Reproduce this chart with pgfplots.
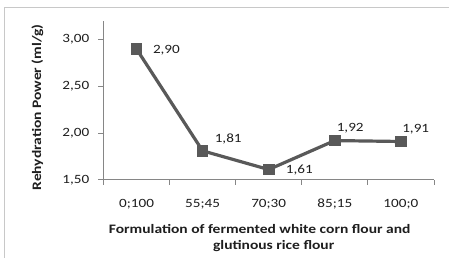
\documentclass[border=0pt]{standalone}
\usepackage{pgfplots}
\pgfplotsset{compat=1.18}
\usepackage{pgfplotstable}
\usepackage{fontspec}
\setmainfont{Carlito}[FakeStretch=1.2]
\definecolor{linegray}{RGB}{89,89,89}
\definecolor{axgray}{RGB}{134,134,134}
\definecolor{bordergray}{RGB}{200,200,200}
\definecolor{txt}{RGB}{30,30,30}
\pgfplotstableread{
x y dx dy
0 2.90 16.5 -4.5
1 1.81 12.2 8.7
2 1.61 17.3 -4.3
3 1.92 2.0 8.9
4 1.91 1.4 9.0
}\datatable
\begin{document}
\begin{tikzpicture}[x=1bp,y=1bp]
\path (0,0) rectangle (449,258);
\draw[bordergray, line width=1bp] (5,0) -- (5,250) -- (449,250);
\begin{axis}[
  at={(103.6bp,78bp)}, anchor=south west,
  scale only axis, width=330.8bp, height=159bp,
  xmin=-0.5, xmax=4.5, ymin=1.5, ymax=3.2,
  axis x line*=bottom, axis y line*=left,
  axis line style={axgray, line width=0.8bp, -},
  xtick={0,1,2,3,4},
  xticklabels={0;100,55;45,70;30,85;15,100;0},
  minor xtick={-0.5,0.5,1.5,2.5,3.5,4.5},
  ytick={1.5,2,2.5,3},
  /pgf/number format/fixed, /pgf/number format/fixed zerofill,
  /pgf/number format/precision=2, /pgf/number format/use comma,
  /pgf/number format/assume math mode=true,
  tick align=outside,
  major tick length=5bp, minor tick length=5bp,
  every major x tick/.append style={draw=none},
  every minor x tick/.append style={axgray, line width=0.8bp},
  every major y tick/.append style={axgray, line width=0.8bp},
  tick label style={font=\fontsize{12.7}{14}\selectfont, text=txt, inner sep=0pt},
  xticklabel style={anchor=base, yshift=-23bp},
  yticklabel style={anchor=east, xshift=-9bp},
  xlabel={Formulation of fermented white corn flour and\\\hspace*{28bp}glutinous rice flour},
  every axis x label/.style={at={(axis description cs:0.4728,0)}, anchor=base,
    yshift=-70bp, inner sep=0pt, align=center, text=txt,
    font=\bfseries\fontsize{13}{16}\selectfont},
  ylabel={Rehydration Power (ml/g)},
  every axis y label/.style={at={(axis description cs:-0.2,0.456)}, anchor=center,
    rotate=90, inner sep=0pt, text=txt, font=\bfseries\fontsize{13}{16}\selectfont},
  clip=false,
]
\addplot[linegray, line width=3.2bp, mark=square*, mark size=5.3bp,
  mark options={solid, fill=linegray, line width=0bp},
  visualization depends on={\thisrow{dx}\as\dx},
  visualization depends on={\thisrow{dy}\as\dy},
  nodes near coords,
  nodes near coords style={anchor=base west, inner sep=0pt, xshift=\dx bp, yshift=\dy bp,
    font=\fontsize{12.7}{14}\selectfont, text=txt},
] table[x=x, y=y] {\datatable};
\end{axis}
\end{tikzpicture}
\end{document}
